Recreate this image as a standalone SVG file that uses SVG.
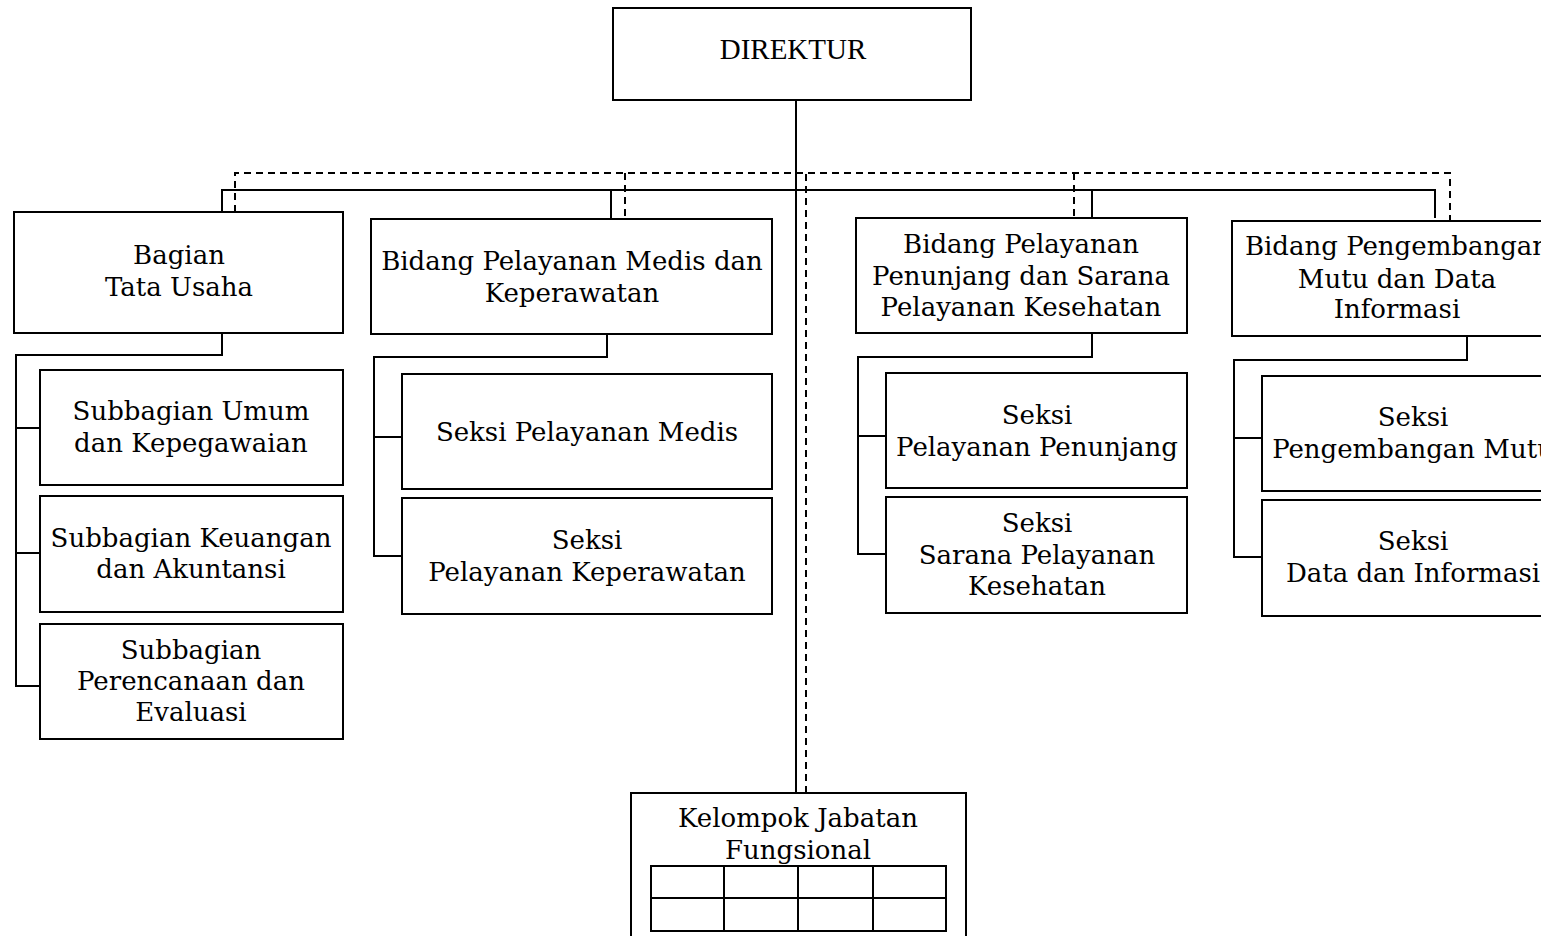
<svg xmlns="http://www.w3.org/2000/svg" width="1541" height="936" viewBox="0 0 1541 936">
<style>
.box{fill:#fff;stroke:#000;stroke-width:2}
.ln{fill:none;stroke:#000;stroke-width:2}
.dl{fill:none;stroke:#000;stroke-width:2;stroke-dasharray:7 5}
.t{font-family:"DejaVu Serif","Liberation Serif",serif;font-size:26px;fill:#000;text-anchor:middle}
.d{font-family:"Liberation Serif",serif;font-size:29px;fill:#000;text-anchor:middle}
</style>
<rect width="1541" height="936" fill="#fff"/>
<g id="connectors">
<path class="ln" d="M796 100V793"/>
<path class="ln" d="M222 212V190H1435V218M611 190V219M1092 190V218"/>
<path class="dl" d="M806 793V173M235 212V173H1450V221M625 173V219M1074 173V218"/>
<path class="ln" d="M222 333V355H16V686H40M16 428H40M16 553H40"/>
<path class="ln" d="M607 334V357H374V556H402M374 437H402"/>
<path class="ln" d="M1092 333V357H858V554H886M858 436H886"/>
<path class="ln" d="M1467 336V360H1234V557H1262M1234 438H1262"/>
</g>
<g id="direktur"><rect class="box" x="613" y="8" width="358" height="92"/><text class="d" x="793" y="59">DIREKTUR</text></g>
<g id="bagian-tu"><rect class="box" x="14" y="212" width="329" height="121"/><text class="t" x="179" y="264">Bagian</text><text class="t" x="179" y="296">Tata Usaha</text></g>
<g id="bidang-medis"><rect class="box" x="371" y="219" width="401" height="115"/><text class="t" x="572" y="270">Bidang Pelayanan Medis dan</text><text class="t" x="572" y="302">Keperawatan</text></g>
<g id="bidang-penunjang"><rect class="box" x="856" y="218" width="331" height="115"/><text class="t" x="1021" y="253">Bidang Pelayanan</text><text class="t" x="1021" y="285">Penunjang dan Sarana</text><text class="t" x="1021" y="316">Pelayanan Kesehatan</text></g>
<g id="bidang-pengembangan"><rect class="box" x="1232" y="221" width="330" height="115"/><text class="t" x="1397" y="255">Bidang Pengembangan</text><text class="t" x="1397" y="288">Mutu dan Data</text><text class="t" x="1397" y="318">Informasi</text></g>
<g id="sub-umum"><rect class="box" x="40" y="370" width="303" height="115"/><text class="t" x="191" y="420">Subbagian Umum</text><text class="t" x="191" y="452">dan Kepegawaian</text></g>
<g id="sub-keuangan"><rect class="box" x="40" y="496" width="303" height="116"/><text class="t" x="191" y="547">Subbagian Keuangan</text><text class="t" x="191" y="578">dan Akuntansi</text></g>
<g id="sub-perencanaan"><rect class="box" x="40" y="624" width="303" height="115"/><text class="t" x="191" y="659">Subbagian</text><text class="t" x="191" y="690">Perencanaan dan</text><text class="t" x="191" y="721">Evaluasi</text></g>
<g id="seksi-medis"><rect class="box" x="402" y="374" width="370" height="115"/><text class="t" x="587" y="441">Seksi Pelayanan Medis</text></g>
<g id="seksi-keperawatan"><rect class="box" x="402" y="498" width="370" height="116"/><text class="t" x="587" y="549">Seksi</text><text class="t" x="587" y="581">Pelayanan Keperawatan</text></g>
<g id="seksi-penunjang"><rect class="box" x="886" y="373" width="301" height="115"/><text class="t" x="1037" y="424">Seksi</text><text class="t" x="1037" y="456">Pelayanan Penunjang</text></g>
<g id="seksi-sarana"><rect class="box" x="886" y="497" width="301" height="116"/><text class="t" x="1037" y="532">Seksi</text><text class="t" x="1037" y="564">Sarana Pelayanan</text><text class="t" x="1037" y="595">Kesehatan</text></g>
<g id="seksi-mutu"><rect class="box" x="1262" y="376" width="300" height="115"/><text class="t" x="1413" y="426">Seksi</text><text class="t" x="1413" y="458">Pengembangan Mutu</text></g>
<g id="seksi-data"><rect class="box" x="1262" y="500" width="300" height="116"/><text class="t" x="1413" y="550">Seksi</text><text class="t" x="1413" y="582">Data dan Informasi</text></g>
<g id="kelompok"><rect class="box" x="631" y="793" width="335" height="160"/><text class="t" x="798" y="827">Kelompok Jabatan</text><text class="t" x="798" y="859">Fungsional</text>
<path class="ln" d="M651 866H946V931H651ZM651 898H946M724 866V931M798 866V931M873 866V931"/></g>
</svg>
